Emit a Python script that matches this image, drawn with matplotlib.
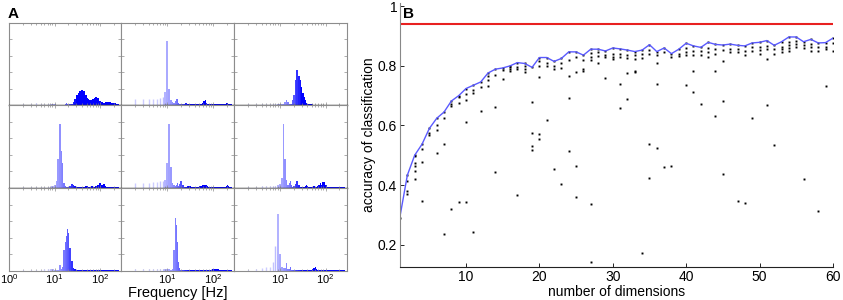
import numpy as np
import matplotlib
matplotlib.use("Agg")
import matplotlib.pyplot as plt

plt.rcParams['font.family'] = ['Liberation Sans', 'DejaVu Sans']
plt.rcParams['mathtext.default'] = 'regular'

# ---- panel A: spectra (frequency bins in Hz, amplitude normalised) ----
FREQS = (list(range(1, 21)) + list(range(22, 41, 2)) +
         list(range(44, 81, 4)) + list(range(90, 251, 10)))

SPEC_1 = [0, 0.02, 0.02, 0.025, 0.02, 0.02, 0.02, 0.02, 0.015, 0.01, 0.005, 0.005, 0.005, 0.005, 0.005, 0.005, 0.01, 0.025, 0.01, 0.005,
          0.01, 0.02, 0.04, 0.08, 0.12, 0.13, 0.15, 0.17, 0.18, 0.185,
          0.17, 0.13, 0.09, 0.07, 0.06, 0.06, 0.07, 0.08, 0.09, 0.1,
          0.085, 0.05, 0.035, 0.03, 0.035, 0.04, 0.04, 0.035, 0.04, 0.03, 0.03, 0.025, 0.025, 0.02, 0.02, 0.02, 0.02]
SPEC_2 = [0, 0.07, 0.07, 0.075, 0.08, 0.08, 0.09, 0.1, 0.16, 0.78, 0.2, 0.06, 0.04, 0.03, 0.05, 0.08, 0.07, 0.03, 0.02, 0.015,
          0.015, 0.01, 0.03, 0.02, 0.01, 0.01, 0.01, 0.01, 0.01, 0.01,
          0.01, 0.01, 0.015, 0.02, 0.03, 0.05, 0.06, 0.03, 0.02, 0.015,
          0.01, 0.01, 0.01, 0.01, 0.01, 0.01, 0.01, 0.015, 0.015, 0.02, 0.02, 0.025, 0.03, 0.02, 0.01, 0.01, 0.01]
SPEC_3 = [0, 0.015, 0.015, 0.02, 0.02, 0.02, 0.02, 0.02, 0.015, 0.01, 0.01, 0.02, 0.04, 0.06, 0.04, 0.01, 0.01, 0.02, 0.06, 0.12,
          0.3, 0.43, 0.35, 0.3, 0.22, 0.15, 0.1, 0.06, 0.03, 0.02,
          0.015, 0.01, 0.01, 0.005, 0.005, 0.005, 0.005, 0.005, 0.005, 0.005,
          0.005, 0.005, 0.005, 0.005, 0.005, 0.005, 0.005, 0.005, 0.005, 0.005, 0.005, 0.005, 0.005, 0.005, 0.005, 0.005, 0.005]
SPEC_4 = [0, 0.01, 0.01, 0.01, 0.015, 0.015, 0.015, 0.015, 0.02, 0.03, 0.08, 0.35, 0.77, 0.45, 0.3, 0.06, 0.02, 0.01, 0.01, 0.01,
          0.02, 0.05, 0.04, 0.02, 0.015, 0.01, 0.01, 0.01, 0.015, 0.01,
          0.01, 0.02, 0.02, 0.01, 0.01, 0.025, 0.02, 0.01, 0.015, 0.02,
          0.03, 0.06, 0.03, 0.05, 0.02, 0.01, 0.01, 0.01, 0.01, 0.01, 0.01, 0.01, 0.01, 0.01, 0.01, 0.01, 0.01]
SPEC_5 = [0, 0.06, 0.06, 0.065, 0.07, 0.075, 0.08, 0.09, 0.1, 0.3, 0.77, 0.25, 0.06, 0.03, 0.02, 0.03, 0.06, 0.02, 0.05, 0.08,
          0.03, 0.01, 0.01, 0.02, 0.025, 0.02, 0.01, 0.01, 0.01, 0.01,
          0.01, 0.015, 0.02, 0.02, 0.03, 0.04, 0.03, 0.035, 0.02, 0.015,
          0.01, 0.01, 0.01, 0.01, 0.01, 0.01, 0.01, 0.01, 0.01, 0.01, 0.01, 0.02, 0.03, 0.02, 0.01, 0.01, 0.01]
SPEC_6 = [0, 0.015, 0.015, 0.02, 0.02, 0.02, 0.025, 0.025, 0.03, 0.05, 0.12, 0.77, 0.35, 0.1, 0.03, 0.06, 0.08, 0.03, 0.01, 0.02,
          0.05, 0.08, 0.04, 0.01, 0.01, 0.01, 0.01, 0.02, 0.04, 0.02,
          0.01, 0.01, 0.015, 0.02, 0.015, 0.01, 0.02, 0.04, 0.06, 0.04,
          0.07, 0.03, 0.01, 0.01, 0.01, 0.01, 0.01, 0.01, 0.01, 0.01, 0.01, 0.01, 0.01, 0.01, 0.01, 0.01, 0.01]
SPEC_7 = [0, 0.01, 0.01, 0.01, 0.01, 0.015, 0.015, 0.015, 0.015, 0.01, 0.01, 0.01, 0.07, 0.02, 0.05, 0.25, 0.35, 0.42, 0.5, 0.45,
          0.28, 0.12, 0.03, 0.02, 0.01, 0.005, 0.005, 0.005, 0.005, 0.005,
          0.005, 0.005, 0.005, 0.005, 0.01, 0.01, 0.005, 0.005, 0.005, 0.005,
          0.005, 0.005, 0.005, 0.005, 0.005, 0.005, 0.005, 0.005, 0.005, 0.005, 0.005, 0.005, 0.005, 0.005, 0.005, 0.005, 0.005]
SPEC_8 = [0, 0.02, 0.02, 0.02, 0.02, 0.02, 0.025, 0.025, 0.025, 0.02, 0.015, 0.01, 0.015, 0.25, 0.64, 0.55, 0.35, 0.1, 0.03, 0.01,
          0.005, 0.005, 0.005, 0.005, 0.005, 0.005, 0.005, 0.005, 0.005, 0.005,
          0.01, 0.01, 0.01, 0.01, 0.01, 0.01, 0.01, 0.01, 0.01, 0.01,
          0.01, 0.015, 0.02, 0.02, 0.015, 0.005, 0.005, 0.005, 0.005, 0.005, 0.005, 0.005, 0.005, 0.005, 0.005, 0.005, 0.005]
SPEC_9 = [0, 0.01, 0.02, 0.03, 0.04, 0.05, 0.1, 0.3, 0.68, 0.2, 0.05, 0.03, 0.03, 0.09, 0.02, 0.02, 0.04, 0.01, 0.01, 0.01,
          0.01, 0.01, 0.01, 0.01, 0.01, 0.01, 0.01, 0.01, 0.01, 0.01,
          0.01, 0.01, 0.015, 0.03, 0.05, 0.02, 0.01, 0.01, 0.01, 0.01,
          0.005, 0.005, 0.005, 0.005, 0.005, 0.005, 0.005, 0.005, 0.005, 0.005, 0.005, 0.005, 0.005, 0.005, 0.005, 0.005, 0.005]
SPECTRA = [SPEC_1, SPEC_2, SPEC_3, SPEC_4, SPEC_5, SPEC_6, SPEC_7, SPEC_8, SPEC_9]
FREQ_TICKS = [1, 10, 100]
FREQ_LABELS = ['$10^0$', '$10^1$', '$10^2$']

# ---- panel B: classification accuracy vs number of dimensions ----
DIMS = list(range(1, 61))
ACC_BEST = [0.295, 0.433, 0.50, 0.537, 0.59, 0.624, 0.645, 0.682, 0.70, 0.724,
            0.735, 0.746, 0.776, 0.789, 0.793, 0.80, 0.811, 0.808, 0.795, 0.828,
            0.828, 0.815, 0.825, 0.847, 0.847, 0.836, 0.856, 0.856, 0.85, 0.86,
            0.857, 0.853, 0.848, 0.853, 0.871, 0.848, 0.86, 0.841, 0.856, 0.876,
            0.867, 0.862, 0.879, 0.872, 0.87, 0.873, 0.869, 0.867, 0.877, 0.879,
            0.885, 0.869, 0.881, 0.897, 0.897, 0.881, 0.889, 0.877, 0.878, 0.893]
ACC_RUNS = [
    [0.29], [0.433, 0.414, 0.38, 0.371], [0.50, 0.497, 0.474, 0.463, 0.447, 0.422],
    [0.537, 0.52, 0.478, 0.347], [0.59, 0.575, 0.567], [0.624, 0.60, 0.585, 0.508],
    [0.645, 0.625, 0.539, 0.236], [0.682, 0.671, 0.664, 0.32], [0.70, 0.694, 0.675, 0.342],
    [0.724, 0.705, 0.687, 0.61, 0.342], [0.735, 0.718, 0.71, 0.243], [0.746, 0.73, 0.65],
    [0.776, 0.765, 0.754, 0.732], [0.789, 0.769, 0.661, 0.445], [0.793, 0.785, 0.757],
    [0.80, 0.796, 0.788, 0.782], [0.811, 0.796, 0.788, 0.365], [0.808, 0.799, 0.79, 0.78],
    [0.795, 0.679, 0.575, 0.53, 0.516], [0.828, 0.815, 0.80, 0.762, 0.57, 0.555],
    [0.828, 0.81, 0.80, 0.617], [0.815, 0.80, 0.79, 0.453], [0.825, 0.81, 0.792, 0.403],
    [0.847, 0.82, 0.766, 0.691, 0.513], [0.847, 0.83, 0.779, 0.463, 0.361],
    [0.836, 0.82, 0.79, 0.782], [0.856, 0.843, 0.831, 0.82, 0.336, 0.141],
    [0.856, 0.845, 0.834, 0.808], [0.85, 0.838, 0.829, 0.758], [0.86, 0.84, 0.83, 0.822],
    [0.857, 0.84, 0.83, 0.74, 0.657], [0.853, 0.835, 0.825, 0.775, 0.688],
    [0.848, 0.836, 0.823, 0.782, 0.778], [0.853, 0.84, 0.826, 0.172],
    [0.871, 0.852, 0.84, 0.539, 0.425], [0.848, 0.835, 0.81, 0.74, 0.525],
    [0.86, 0.848, 0.46], [0.841, 0.83, 0.464], [0.856, 0.84, 0.832],
    [0.876, 0.86, 0.845, 0.835, 0.736], [0.867, 0.85, 0.835, 0.784, 0.711],
    [0.862, 0.85, 0.835, 0.671], [0.879, 0.86, 0.845, 0.83],
    [0.872, 0.855, 0.84, 0.784, 0.631], [0.87, 0.853, 0.817, 0.681, 0.436],
    [0.873, 0.858, 0.845], [0.869, 0.855, 0.845, 0.346], [0.867, 0.85, 0.835, 0.341],
    [0.877, 0.862, 0.85, 0.624], [0.879, 0.865, 0.852, 0.84],
    [0.885, 0.868, 0.855, 0.823, 0.669], [0.869, 0.855, 0.84, 0.536],
    [0.881, 0.865, 0.855, 0.845], [0.897, 0.88, 0.87, 0.86, 0.85],
    [0.897, 0.885, 0.875, 0.862], [0.881, 0.87, 0.86, 0.422], [0.889, 0.875, 0.862, 0.85],
    [0.877, 0.862, 0.85, 0.314], [0.878, 0.865, 0.855, 0.731], [0.893, 0.878, 0.85],
]
ACC_ALL = 0.94
ACC_TICKS = [0.2, 0.4, 0.6, 0.8, 1.0]
ACC_LABELS = ['0.2', '0.4', '0.6', '0.8', '1']
DIM_TICKS = [10, 20, 30, 40, 50, 60]


def bar_colour(f):
    # light lavender at low frequencies, saturated blue from ~30 Hz
    t = min(max(f / 30.0, 0.2), 1.0)
    return (1 - t, 1 - t, 1.0)


def main():
    fig = plt.figure(figsize=(8.43, 3.0), dpi=100)

    freqs = np.array(FREQS, dtype=float)
    cols = np.array([bar_colour(f) for f in freqs])
    # bin edges half way (in log) between neighbouring bins
    mids = np.sqrt(freqs[:-1] * freqs[1:])
    lo = np.concatenate([[freqs[0] * 0.97], mids])
    hi = np.concatenate([mids, [freqs[-1] * 1.04]])
    sticks = freqs < 9

    x0, y0, w, h = 0.0105, 0.0977, 0.1336, 0.2757
    frame = '#8c8c8c'
    for i, spec in enumerate(SPECTRA):
        row, col = divmod(i, 3)
        ax = fig.add_axes([x0 + col * w, y0 + (2 - row) * h, w, h])
        amps = np.array(spec)
        ax.vlines(freqs[sticks], 0, amps[sticks], colors=cols[sticks], lw=1.0)
        ax.bar(lo[~sticks], amps[~sticks], width=(hi - lo)[~sticks], align='edge',
               color=cols[~sticks], linewidth=0)
        ax.set_xscale('log')
        ax.set_xlim(1, 290)
        ax.set_ylim(0, 1)
        ax.set_yticks([0.2, 0.4, 0.6, 0.8])
        ax.set_yticklabels([])
        ax.set_xticks(FREQ_TICKS)
        for s in ax.spines.values():
            s.set_color(frame)
            s.set_linewidth(0.8)
        if row < 2:
            ax.spines['bottom'].set_color('#222222')
            ax.spines['bottom'].set_linewidth(1.0)
            ax.set_xticklabels([])
        else:
            labels = list(FREQ_LABELS)
            if col > 0:
                labels[0] = ''
            ax.set_xticklabels(labels, fontsize=8)
        ax.tick_params(which='both', direction='in', top=True, right=True,
                       length=2, width=0.5, color=frame, pad=1)
        ax.tick_params(which='minor', length=1.2)
        ax.tick_params(axis='x', which='minor', labelbottom=False)

    fig.text(x0 + 1.5 * w, 0.0, 'Frequency [Hz]', ha='center', va='bottom', fontsize=10.5)
    fig.text(0.009, 0.955, 'A', fontsize=11, fontweight='bold', va='center')

    axb = fig.add_axes([0.4745, 0.11, 0.5135, 0.879])
    for d, runs in zip(DIMS, ACC_RUNS):
        axb.plot([d] * len(runs), runs, 's', color='k', ms=1.4, mew=0)
    axb.plot(DIMS, ACC_BEST, color='#5a5aff', lw=1.0)
    axb.axhline(ACC_ALL, color='#e82020', lw=1.5)
    axb.set_xlim(1, 60)
    axb.set_ylim(0.125, 1.01)
    axb.set_xticks(DIM_TICKS)
    axb.set_yticks(ACC_TICKS)
    axb.set_yticklabels(ACC_LABELS)
    axb.spines['top'].set_visible(False)
    axb.spines['right'].set_visible(False)
    axb.spines['left'].set_color('#888888')
    axb.spines['bottom'].set_color('#222222')
    axb.tick_params(direction='in', length=3, width=0.6, labelsize=10, pad=2)
    axb.set_xlabel('number of dimensions', fontsize=10, labelpad=1)
    axb.set_ylabel('accuracy of classification', fontsize=10, labelpad=1)
    fig.text(0.478, 0.955, 'B', fontsize=11, fontweight='bold', va='center')

    fig.savefig('out.png', dpi=100)


if __name__ == '__main__':
    main()
